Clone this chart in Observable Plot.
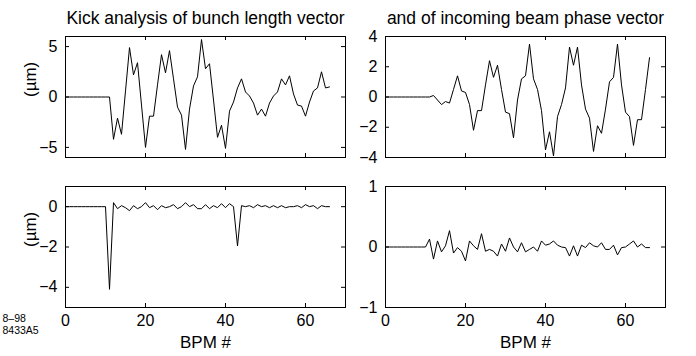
<!DOCTYPE html>
<html><head><meta charset="utf-8">
<script src="https://cdn.jsdelivr.net/npm/d3@7"></script>
<script src="https://cdn.jsdelivr.net/npm/@observablehq/plot@0.6"></script>
<style>
html,body{margin:0;padding:0;background:#fff;}
#chart{position:relative;width:696px;height:356px;overflow:hidden;background:#fff;}
#chart svg{position:absolute;left:0;top:0;}
</style></head><body><div id="chart"></div>
<script>
// Kick analysis of bunch length vector (µm), BPM 0..66
const bunchKick = [0,0,0,0,0,0,0,0,0,0,0,0,-4.2,-2.1,-3.7,0.6,4.9,2.2,3.4,-0.8,-5.0,-1.9,-1.9,1.2,4.2,2.4,4.6,1.8,-1.0,-1.8,-5.2,-1.2,1.1,2.0,5.7,2.8,3.3,-0.3,-4.0,-2.8,-5.1,-1.4,-0.5,0.9,1.8,0.5,0.1,-0.6,-1.8,-1.2,-1.9,-0.6,0.1,0.5,1.8,1.2,2.1,0.3,-0.8,-0.9,-1.9,-0.5,0.6,0.9,2.5,0.9,1.0];
// Kick analysis of incoming beam phase vector, BPM 0..66
const phaseKick = [0,0,0,0,0,0,0,0,0,0,0,0,0.1,-0.2,-0.5,-0.3,-0.4,0.5,1.4,0.4,0.3,-0.5,-2.2,-0.9,-0.9,0.8,2.4,1.3,2.1,0.5,-1.0,-1.1,-2.7,-0.2,1.2,1.4,3.5,1.2,0.5,-0.9,-3.5,-2.3,-3.9,-1.3,-0.5,0.6,3.3,2.1,3.3,0.8,-0.8,-1.4,-3.6,-1.9,-2.4,-0.8,1.0,1.3,3.5,0.8,-1.0,-1.3,-3.2,-1.5,-1.5,0.5,2.6];
// Residual after fit, bunch length (µm)
const bunchResid = [0,0,0,0,0,0,0,0,0,0,0,-4.1,0.2,-0.1,0.05,-0.05,-0.2,0.05,-0.1,0.0,0.2,-0.05,0.05,-0.15,0.05,-0.05,0.0,0.1,-0.1,0.0,0.2,0.0,0.1,-0.1,-0.1,0.1,-0.1,0.05,-0.05,0.15,-0.05,0.15,0.0,-1.95,0.05,0.0,0.05,-0.05,0.1,0.0,0.05,-0.05,0.05,-0.05,0.05,-0.05,0.0,0.0,0.05,-0.05,0.1,0.0,0.05,-0.1,0.05,0.0,0.0];
// Residual after fit, beam phase
const phaseResid = [0,0,0,0,0,0,0,0,0,0,0,0.13,-0.2,0.1,-0.08,0.02,0.27,-0.1,-0.01,-0.07,-0.23,0.1,0.02,-0.04,0.22,-0.07,-0.04,-0.07,-0.15,0.05,-0.07,0.15,0.0,-0.08,0.07,-0.08,-0.04,0.0,-0.07,0.1,0.03,0.05,0.1,0.03,0.0,-0.01,-0.15,0.02,-0.15,0.03,-0.01,0.07,0.02,0.0,0.07,-0.04,-0.04,0.03,-0.13,-0.01,0.0,0.05,0.1,0.0,0.05,-0.01,-0.01];

const xDomain = [0, 70];
const xTicks = [0, 20, 40, 60];
const titles = ["Kick analysis of bunch length vector", "and of incoming beam phase vector"];
const yLabel = "(µm)";
const xLabel = "BPM #";
const stamp = "8–98\n8433A5";

const FONT = "'Liberation Sans', Arial, Helvetica, sans-serif";
const W = 696, H = 356;
const fmt = d => (d < 0 ? "\u2212" : "") + Math.abs(d);

const panels = [
  {values: bunchKick, yDomain: [-6, 6], yTicks: [-5, 0, 5], box: [65, 36, 345, 157], xLab: false, yLab: true, title: titles[0]},
  {values: phaseKick, yDomain: [-4, 4], yTicks: [-4, -2, 0, 2, 4], box: [385, 36, 665, 157], xLab: false, yLab: false, title: titles[1]},
  {values: bunchResid, yDomain: [-5, 1], yTicks: [-4, -2, 0], box: [65, 186, 345, 307], xLab: true, yLab: true, stamp: true},
  {values: phaseResid, yDomain: [-1, 1], yTicks: [-1, 0, 1], box: [385, 186, 665, 307], xLab: true, yLab: false}
];

const chart = document.getElementById("chart");
const tickPx = 4;

for (const p of panels) {
  const [L, T, R, B] = p.box;
  const innerW = R - L, innerH = B - T;
  const data = p.values.map((v, i) => ({bpm: i, v}));
  const [y0, y1] = p.yDomain;
  const ty = tickPx * (y1 - y0) / innerH;
  const tx = tickPx * (xDomain[1] - xDomain[0]) / innerW;
  const marks = [
    Plot.frame({stroke: "black", strokeWidth: 1}),
    Plot.ruleX(xTicks, {x: d => d, y1: y0, y2: y0 + ty, stroke: "black"}),
    Plot.ruleX(xTicks, {x: d => d, y1: y1, y2: y1 - ty, stroke: "black"}),
    Plot.ruleY(p.yTicks, {y: d => d, x1: xDomain[0], x2: xDomain[0] + tx, stroke: "black"}),
    Plot.ruleY(p.yTicks, {y: d => d, x1: xDomain[1], x2: xDomain[1] - tx, stroke: "black"}),
    Plot.line(data, {x: "bpm", y: "v", stroke: "black", strokeWidth: 1}),
    Plot.axisY({ticks: p.yTicks, tickSize: 0, tickPadding: 8, tickFormat: fmt, label: null, fontSize: 16, fill: "black"})
  ];
  if (p.xLab) {
    marks.push(Plot.axisX({ticks: xTicks, tickSize: 0, tickPadding: 7, tickFormat: fmt, label: null, fontSize: 16, fill: "black"}));
    marks.push(Plot.text([xLabel], {text: d => d, frameAnchor: "bottom", dy: 40, fontSize: 17, fill: "black"}));
  }
  if (p.yLab) {
    marks.push(Plot.text([yLabel], {text: d => d, frameAnchor: "left", dx: -35, rotate: -90, fontSize: 17, fill: "black"}));
  }
  if (p.title) {
    marks.push(Plot.text([p.title], {text: d => d, frameAnchor: "top", dy: -25, fontSize: 17.5, fill: "black"}));
  }
  if (p.stamp) {
    marks.push(Plot.text([stamp], {text: d => d, frameAnchor: "bottom-left", dx: -63, dy: 17, textAnchor: "start", lineAnchor: "middle", lineHeight: 1.1, fontSize: 10.5, fill: "black"}));
  }
  const svg = Plot.plot({
    width: W, height: H,
    marginLeft: L, marginTop: T, marginRight: W - R, marginBottom: H - B,
    x: {domain: xDomain, axis: null},
    y: {domain: p.yDomain, axis: null},
    style: {fontFamily: FONT, background: "transparent", color: "black", overflow: "visible"},
    marks
  });
  svg.style.background = "transparent";
  chart.appendChild(svg);
}
</script></body></html>
